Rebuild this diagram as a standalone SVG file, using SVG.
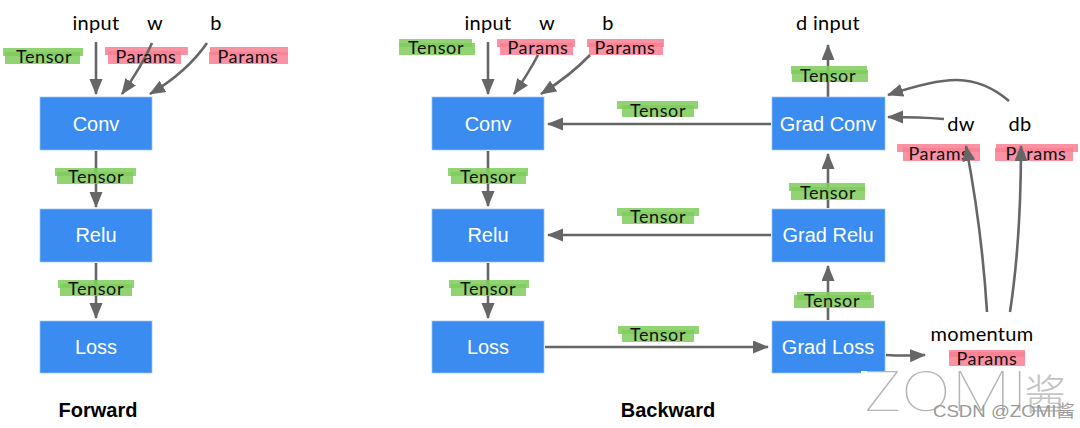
<svg xmlns="http://www.w3.org/2000/svg" width="1080" height="428" viewBox="0 0 1080 428">
<style>
.box{fill:#3b8cf0;stroke:#9cc6f5;stroke-width:.7}
.bt{font:20px "Liberation Sans",Arial,sans-serif;fill:#fff;text-anchor:middle}
.hd{font:bold 20px "Liberation Sans",Arial,sans-serif;fill:#000;text-anchor:middle}
.h{font-family:"Lato","Open Sans",sans-serif;font-size:20px;fill:#000;text-anchor:middle;letter-spacing:.3px}
.t{font-family:"Lato","Open Sans",sans-serif;font-size:18px;fill:#111;text-anchor:middle;letter-spacing:.6px}
.g{fill:#7fcb5c;fill-opacity:.85}
.p{fill:#f97f93;fill-opacity:.85}
.c path{fill:none;stroke:#666;stroke-width:2.6}
</style>
<defs>
<marker id="a" markerUnits="userSpaceOnUse" markerWidth="18" markerHeight="16" refX="15" refY="6.5" orient="auto"><path d="M0 0L16 6.5L0 13Z" fill="#666"/></marker>
</defs>
<g id="tags-under">
<g id="tag-f-tensor"><rect class="g" x="3" y="48" width="80" height="8"/><rect class="g" x="5" y="52" width="75" height="12"/></g>
<g id="tag-f-params1"><rect class="p" x="105" y="47" width="83" height="8"/><rect class="p" x="108" y="51" width="73" height="13"/></g>
<g id="tag-f-params2"><rect class="p" x="210" y="47" width="78" height="8"/><rect class="p" x="209" y="52" width="79" height="12"/></g>
<g id="tag-b-tensor"><rect class="g" x="399" y="39" width="73" height="8"/><rect class="g" x="399" y="43" width="76" height="12"/></g>
<g id="tag-b-params1"><rect class="p" x="497" y="39" width="78" height="8"/><rect class="p" x="500" y="43" width="73" height="12"/></g>
<g id="tag-b-params2"><rect class="p" x="587" y="39" width="77" height="8"/><rect class="p" x="589" y="43" width="74" height="12"/></g>
</g>
<g class="c" id="connectors">
<path marker-end="url(#a)" d="M96 42V94"/>
<path marker-end="url(#a)" d="M152 43Q142 66 122 94"/>
<path marker-end="url(#a)" d="M207 43Q187 72 150 94"/>
<path marker-end="url(#a)" d="M96 151V207"/>
<path marker-end="url(#a)" d="M96 263V318"/>
<path marker-end="url(#a)" d="M488 42V94"/>
<path marker-end="url(#a)" d="M538 55Q528 74 514 94"/>
<path marker-end="url(#a)" d="M590 55Q571 75 541 94"/>
<path marker-end="url(#a)" d="M488 151V206"/>
<path marker-end="url(#a)" d="M488 263V318"/>
<path marker-end="url(#a)" d="M771 124H548"/>
<path marker-end="url(#a)" d="M771 235H548"/>
<path marker-end="url(#a)" d="M545 347H768"/>
<path marker-end="url(#a)" d="M828 320V266"/>
<path marker-end="url(#a)" d="M828 208V154"/>
<path marker-end="url(#a)" d="M828 97V45"/>
<path marker-end="url(#a)" d="M944 119Q920 117 888 117"/>
<path marker-end="url(#a)" d="M1009 101C975 72 945 76 888 95"/>
<path marker-end="url(#a)" d="M886 355Q905 356 925 355"/>
</g>
<g id="n-f-conv"><rect class="box" x="40" y="97" width="112" height="53"/><text class="bt" x="96" y="131">Conv</text></g>
<g id="n-f-relu"><rect class="box" x="40" y="209" width="112" height="53"/><text class="bt" x="96" y="242">Relu</text></g>
<g id="n-f-loss"><rect class="box" x="40" y="321" width="112" height="52"/><text class="bt" x="96" y="354">Loss</text></g>
<g id="n-b-conv"><rect class="box" x="432" y="97" width="112" height="53"/><text class="bt" x="488" y="131">Conv</text></g>
<g id="n-b-relu"><rect class="box" x="432" y="209" width="112" height="53"/><text class="bt" x="488" y="242">Relu</text></g>
<g id="n-b-loss"><rect class="box" x="432" y="321" width="112" height="52"/><text class="bt" x="488" y="354">Loss</text></g>
<g id="n-gconv"><rect class="box" x="772" y="97" width="113" height="53"/><text class="bt" x="828" y="131">Grad Conv</text></g>
<g id="n-grelu"><rect class="box" x="772" y="209" width="113" height="53"/><text class="bt" x="828" y="242">Grad Relu</text></g>
<g id="n-gloss"><rect class="box" x="772" y="321" width="113" height="52"/><text class="bt" x="828" y="354">Grad Loss</text></g>
<g id="tags-over">
<g><rect class="g" x="55" y="168" width="81" height="8"/><rect class="g" x="57" y="172" width="76" height="12"/></g>
<g><rect class="g" x="58" y="280" width="76" height="8"/><rect class="g" x="60" y="284" width="72" height="12"/></g>
<g><rect class="g" x="448" y="168" width="80" height="8"/><rect class="g" x="451" y="172" width="75" height="12"/></g>
<g><rect class="g" x="449" y="280" width="80" height="8"/><rect class="g" x="451" y="284" width="75" height="12"/></g>
<g><rect class="g" x="617" y="101" width="81" height="8"/><rect class="g" x="622" y="105" width="72" height="12"/></g>
<g><rect class="g" x="617" y="208" width="82" height="8"/><rect class="g" x="622" y="212" width="72" height="12"/></g>
<g><rect class="g" x="618" y="326" width="81" height="8"/><rect class="g" x="622" y="330" width="72" height="12"/></g>
<g><rect class="g" x="791" y="66" width="76" height="8"/><rect class="g" x="792" y="70" width="76" height="12"/></g>
<g><rect class="g" x="789" y="183" width="76" height="8"/><rect class="g" x="791" y="187" width="74" height="13"/></g>
<g><rect class="g" x="797" y="292" width="74" height="8"/><rect class="g" x="794" y="295" width="80" height="13"/></g>
<g><rect class="p" x="897" y="144" width="83" height="8"/><rect class="p" x="903" y="148" width="77" height="13"/></g>
<g><rect class="p" x="996" y="144" width="82" height="8"/><rect class="p" x="995" y="148" width="78" height="13"/></g>
<g><rect class="p" x="949" y="350" width="76" height="16"/><rect class="p" x="949" y="352" width="76" height="5"/></g>
</g>
<g id="labels">
<text class="h" x="96" y="30">input</text><text class="h" x="155" y="30">w</text><text class="h" x="216" y="30">b</text>
<text class="h" x="488" y="30">input</text><text class="h" x="547" y="30">w</text><text class="h" x="608" y="30">b</text>
<text class="h" x="828" y="30">d input</text><text class="h" x="961" y="131">dw</text><text class="h" x="1020" y="131">db</text>
<text class="h" x="982" y="341">momentum</text>
<text class="t" x="44" y="63">Tensor</text><text class="t" x="146" y="63">Params</text><text class="t" x="248" y="63">Params</text>
<text class="t" x="436" y="54">Tensor</text><text class="t" x="538" y="54">Params</text><text class="t" x="625" y="54">Params</text>
<text class="t" x="96" y="183">Tensor</text><text class="t" x="96" y="295">Tensor</text>
<text class="t" x="488" y="183">Tensor</text><text class="t" x="488" y="295">Tensor</text>
<text class="t" x="658" y="117">Tensor</text><text class="t" x="658" y="223">Tensor</text><text class="t" x="658" y="341">Tensor</text>
<text class="t" x="828" y="82">Tensor</text><text class="t" x="828" y="199">Tensor</text><text class="t" x="832" y="307">Tensor</text>
<text class="t" x="939" y="160">Params</text><text class="t" x="1036" y="160">Params</text><text class="t" x="987" y="365">Params</text>
<text class="hd" x="98" y="417">Forward</text><text class="hd" x="668" y="417">Backward</text>
</g>
<g class="c" id="connectors-top">
<path marker-end="url(#a)" d="M987 312Q982 230 966 146"/>
<path marker-end="url(#a)" d="M1010 312Q1021 240 1021 146"/>
</g>
<g id="watermark">
<rect x="861" y="371" width="25" height="3" fill="#fff"/>
<text x="862" y="411" font-size="54" textLength="166" lengthAdjust="spacingAndGlyphs" fill="#b5b5b5" font-weight="100" font-family="Inter,Roboto,sans-serif">ZOMI</text>
<text x="1045" y="410" font-size="42" text-anchor="middle" fill="#c4c4c4" font-weight="300" font-family="Noto Sans CJK SC,sans-serif">酱</text>
<text x="933" y="417" font-size="17" textLength="142" lengthAdjust="spacingAndGlyphs" fill="#999" font-family="Liberation Sans,Noto Sans CJK SC,sans-serif">CSDN @ZOMI酱</text>
</g>
</svg>
